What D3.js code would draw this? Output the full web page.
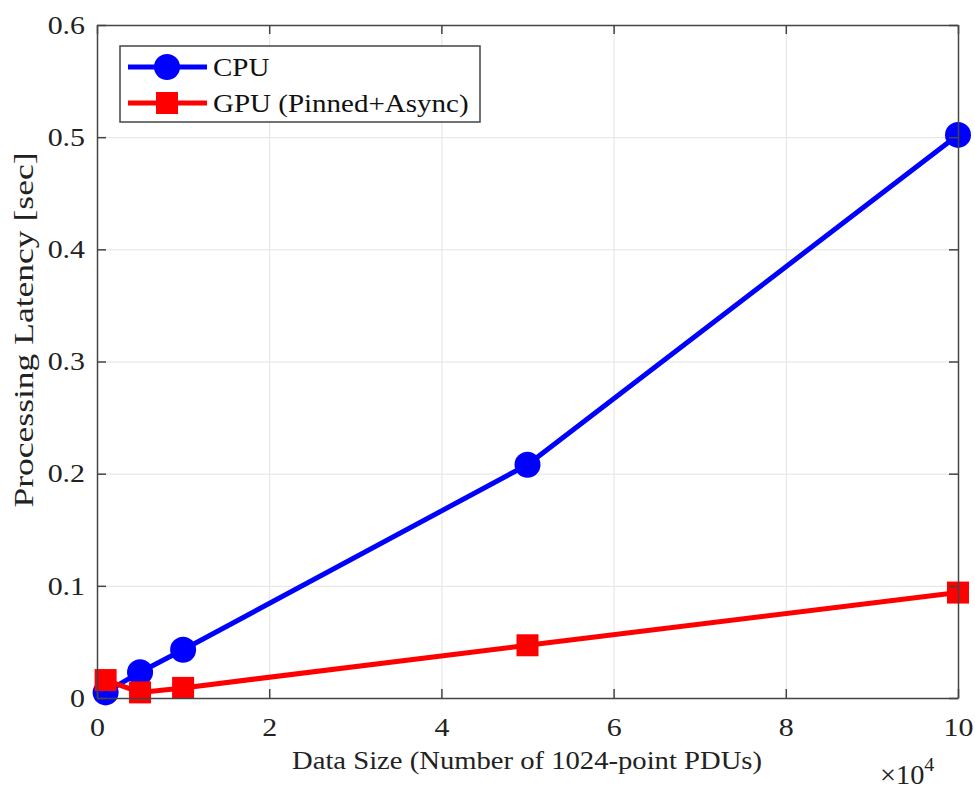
<!DOCTYPE html>
<html>
<head>
<meta charset="utf-8">
<script src="https://cdn.jsdelivr.net/npm/d3@7.9.0/dist/d3.min.js"></script>
<style>
  body { margin: 0; background: #fff; }
  svg { font-family: "Liberation Serif", "Times New Roman", serif; }
</style>
</head>
<body>
<svg id="chart" width="975" height="790"></svg>
<script>
// data (x in units of 10^4 PDUs)
const dataSizes = [0.1, 0.5, 1, 5, 10];
const cpuLatency = [0.005, 0.023, 0.043, 0.208, 0.502];
const gpuLatency = [0.016, 0.005, 0.009, 0.047, 0.094];
const xTicks = [0, 2, 4, 6, 8, 10];
const yTicks = [0, 0.1, 0.2, 0.3, 0.4, 0.5, 0.6];

const series = [
  { name: 'CPU', values: cpuLatency, color: '#0000ff', shape: 'circle' },
  { name: 'GPU (Pinned+Async)', values: gpuLatency, color: '#ff0000', shape: 'square' },
];

const svg = d3.select('#chart');
const area = { left: 97, right: 958, top: 25, bottom: 698 };
const axisColor = '#444';
const stretch = 1.15; // reference text is a bit wide

const x = d3.scaleLinear().domain([0, 10]).range([area.left, area.right]);
const y = d3.scaleLinear().domain([0, 0.6]).range([area.bottom, area.top]);

// widen a text horizontally
function widen(sel, k = stretch) {
  sel.each(function () {
    const len = this.getComputedTextLength();
    d3.select(this).attr('textLength', len * k).attr('lengthAdjust', 'spacingAndGlyphs');
  });
}

// gridlines
svg.append('g')
  .attr('transform', `translate(0,${area.bottom})`)
  .call(d3.axisBottom(x).tickValues(xTicks).tickFormat('').tickSize(-(area.bottom - area.top)))
  .call(g => g.select('.domain').remove())
  .call(g => g.selectAll('line').attr('stroke', '#e3e3e3').attr('stroke-width', 1));
svg.append('g')
  .attr('transform', `translate(${area.left},0)`)
  .call(d3.axisLeft(y).tickValues(yTicks).tickFormat('').tickSize(-(area.right - area.left)))
  .call(g => g.select('.domain').remove())
  .call(g => g.selectAll('line').attr('stroke', '#e3e3e3').attr('stroke-width', 1));

// lines + markers
const line = d3.line().x((d, i) => x(dataSizes[i])).y(d => y(d));
series.forEach(s => {
  svg.append('path')
    .datum(s.values)
    .attr('fill', 'none')
    .attr('stroke', s.color)
    .attr('stroke-width', 5)
    .attr('stroke-linejoin', 'round')
    .attr('d', line);
});
series.forEach(s => {
  const g = svg.append('g');
  if (s.shape === 'circle') {
    g.selectAll('circle').data(s.values).join('circle')
      .attr('cx', (d, i) => x(dataSizes[i]))
      .attr('cy', d => y(d))
      .attr('r', 13)
      .attr('fill', s.color);
  } else {
    g.selectAll('rect').data(s.values).join('rect')
      .attr('x', (d, i) => x(dataSizes[i]) - 11)
      .attr('y', d => y(d) - 11)
      .attr('width', 22).attr('height', 22)
      .attr('fill', s.color);
  }
});

// axes (inward ticks, mirrored on top/right)
const tickLen = 9;
const axB = svg.append('g').attr('transform', `translate(0,${area.bottom})`)
  .call(d3.axisBottom(x).tickValues(xTicks).tickSizeInner(-tickLen).tickSizeOuter(0).tickPadding(20).tickFormat(d3.format('d')));
const axL = svg.append('g').attr('transform', `translate(${area.left},0)`)
  .call(d3.axisLeft(y).tickValues(yTicks).tickSizeInner(-tickLen).tickSizeOuter(0).tickPadding(12).tickFormat(d => d === 0 ? '0' : d3.format('.1f')(d)));
const axT = svg.append('g').attr('transform', `translate(0,${area.top})`)
  .call(d3.axisTop(x).tickValues(xTicks).tickSizeInner(-tickLen).tickSizeOuter(0).tickFormat(''));
const axR = svg.append('g').attr('transform', `translate(${area.right},0)`)
  .call(d3.axisRight(y).tickValues(yTicks).tickSizeInner(-tickLen).tickSizeOuter(0).tickFormat(''));
[axB, axL, axT, axR].forEach(a => {
  a.select('.domain').attr('stroke', axisColor).attr('stroke-width', 1.5);
  a.selectAll('.tick line').attr('stroke', axisColor).attr('stroke-width', 1.5);
  a.selectAll('.tick text').attr('fill', '#222').style('font-size', '26px').style('font-family', '"Liberation Serif", serif');
});
widen(axB.selectAll('.tick text'));
widen(axL.selectAll('.tick text'));

// axis labels
svg.append('text')
  .attr('x', 527).attr('y', 769)
  .attr('text-anchor', 'middle').attr('fill', '#222')
  .style('font-size', '26px')
  .text('Data Size (Number of 1024-point PDUs)')
  .attr('textLength', 470).attr('lengthAdjust', 'spacingAndGlyphs');
svg.append('text')
  .attr('transform', `translate(33,330) rotate(-90)`)
  .attr('text-anchor', 'middle').attr('fill', '#222')
  .style('font-size', '27px')
  .text('Processing Latency [sec]')
  .attr('textLength', 355).attr('lengthAdjust', 'spacingAndGlyphs');

// x10^4 multiplier
const mult = svg.append('g').attr('transform', 'translate(880,784) scale(1.05,1)');
const mt = mult.append('text')
  .attr('x', 0).attr('y', 0)
  .attr('fill', '#222')
  .style('font-size', '27px');
mt.append('tspan').text('×10');
mt.append('tspan').attr('dy', -13).style('font-size', '19px').text('4');

// legend
const legend = svg.append('g');
legend.append('rect')
  .attr('x', 120).attr('y', 46).attr('width', 360).attr('height', 76)
  .attr('fill', '#fff').attr('stroke', axisColor).attr('stroke-width', 1.5);
series.forEach((s, i) => {
  const cy = 67 + i * 36;
  legend.append('line')
    .attr('x1', 128).attr('x2', 207).attr('y1', cy).attr('y2', cy)
    .attr('stroke', s.color).attr('stroke-width', 5);
  if (s.shape === 'circle') {
    legend.append('circle').attr('cx', 167).attr('cy', cy).attr('r', 13).attr('fill', s.color);
  } else {
    legend.append('rect').attr('x', 156).attr('y', cy - 11).attr('width', 22).attr('height', 22).attr('fill', s.color);
  }
  legend.append('text')
    .attr('x', 213).attr('y', cy + 9)
    .attr('fill', '#111')
    .style('font-size', '25px')
    .text(s.name)
    .call(widen, 1.16);
});
</script>
</body>
</html>
